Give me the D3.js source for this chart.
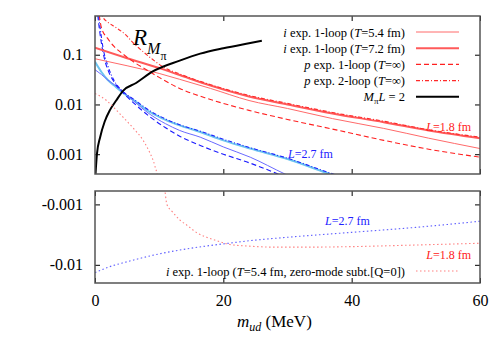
<!DOCTYPE html>
<html>
<head>
<meta charset="utf-8">
<script src="https://cdn.jsdelivr.net/npm/d3@7"></script>
<style>
body { margin: 0; background: #fff; }
text { font-family: "Liberation Serif", "Times New Roman", serif; }
</style>
</head>
<body>
<div id="root"></div>
<script>
// ---- data ----
// L = 1.8 fm, top panel
const mRedThin = [0, 5, 10, 13.2, 18, 24, 30, 37, 45, 52, 60];
const rRedThin = [0.083, 0.060, 0.042, 0.032, 0.021, 0.012, 0.0083, 0.0052, 0.0033, 0.0021, 0.0013];
const mRedThick = [0, 5, 10, 13.2, 18, 24, 30, 37, 45, 52, 60];
const rRedThick = [0.138, 0.085, 0.054, 0.039, 0.024, 0.0145, 0.010, 0.0066, 0.0044, 0.0030, 0.0021];
const mRedDash = [0.5, 1, 2, 3, 4.5, 6, 8, 10, 13.2, 18, 24, 30, 37, 45, 52, 60];
const rRedDash = [0.9, 0.35, 0.21, 0.145, 0.1, 0.072, 0.050, 0.035, 0.021, 0.0126, 0.0076, 0.005, 0.0032, 0.0019, 0.00126, 0.00087];
const mRedDot2 = [0.9, 1.2, 2, 3, 4.8, 6, 7.5, 9, 10.6, 13.2, 18, 24, 30, 37, 45, 52, 60];
const rRedDot2 = [0.8, 0.58, 0.45, 0.37, 0.25, 0.17, 0.115, 0.08, 0.057, 0.041, 0.025, 0.0152, 0.0105, 0.0069, 0.0046, 0.0031, 0.0022];
// L = 2.7 fm, top panel
const mBlueThin = [0, 1, 2, 3, 4.4, 6, 8.6, 11, 13.2, 16.4, 20, 24.2, 29.6, 35];
const rBlueThin = [0.05, 0.04, 0.031, 0.025, 0.018, 0.0118, 0.0063, 0.0041, 0.0030, 0.0022, 0.0014, 0.00087, 0.0004, 0.0002];
const mBlueThick = [0, 1, 2, 3, 4.4, 6, 8.6, 11, 13.2, 16.4, 20, 24.2, 30, 36.6, 42];
const rBlueThick = [0.072, 0.045, 0.031, 0.024, 0.017, 0.0122, 0.0070, 0.0049, 0.0038, 0.0028, 0.0019, 0.0013, 0.0008, 0.0004, 0.00024];
const mBlueDash = [0.3, 0.6, 1, 1.5, 2, 3, 4.4, 6, 8.6, 11, 13.2, 16.4, 20, 24.2, 28.5, 34];
const rBlueDash = [0.9, 0.4, 0.17, 0.08, 0.05, 0.028, 0.017, 0.0108, 0.0056, 0.0034, 0.0023, 0.0015, 0.001, 0.00066, 0.0004, 0.0002];
const mBlueDot2 = [0.4, 0.8, 1.2, 2, 3, 4.4, 6, 8.6, 11, 13.2, 16.4, 20, 24.2, 30, 36.6, 42];
const rBlueDot2 = [0.9, 0.35, 0.15, 0.06, 0.03, 0.018, 0.0128, 0.0074, 0.0051, 0.0039, 0.0029, 0.002, 0.00135, 0.00083, 0.00042, 0.00025];
// M_pi L = 2
const mBlack = [0.02, 0.3, 0.8, 1.5, 2.3, 3.3, 4.4, 6.4, 9, 13.2, 16.4, 20, 24, 26];
const rBlack = [0.0003, 0.001, 0.0022, 0.0045, 0.0076, 0.012, 0.019, 0.027, 0.046, 0.076, 0.105, 0.135, 0.17, 0.19];
// zero-mode subtracted (signed values, both panels)
const mRedZero = [0, 1.8, 3, 4.4, 6, 7.5, 8.5, 9.3, 9.8, 10.2, 10.5, 10.9, 11.2, 12, 13.2, 14.3, 16, 17.4, 19, 21, 24, 28, 33, 40, 50, 60];
const rRedZero = [0.0166, 0.012, 0.0085, 0.0055, 0.0033, 0.0019, 0.0011, 0.0006, 0.0003, 0.00001, -0.0003, -0.0006, -0.001, -0.0013, -0.0018, -0.0022, -0.003, -0.0035, -0.004, -0.0046, -0.0049, -0.0051, -0.0051, -0.005, -0.0047, -0.0044];
const mBlueZero = [0, 2, 5, 10, 15, 20, 25, 30, 40, 50, 60];
const rBlueZero = [-0.0135, -0.011, -0.0089, -0.0066, -0.0053, -0.0045, -0.0039, -0.0035, -0.0029, -0.0024, -0.0019];

const xTicks = [0, 20, 40, 60];
const topTicks = [0.001, 0.01, 0.1];
const botTicks = [0.001, 0.01];

// ---- layout ----
const width = 500, height = 350;
const left = 95, right = 480;
const topY0 = 16, topY1 = 174, botY0 = 191, botY1 = 283;

const x = d3.scaleLinear().domain([0, 60]).range([left, right]);
const yTop = d3.scaleLog().domain([0.0004, 0.6]).range([topY1, topY0]);
const yBot = d3.scaleLog().domain([0.0006, 0.02]).range([botY0, botY1]);

const svg = d3.select("#root").append("svg")
    .attr("width", width)
    .attr("height", height);

const defs = svg.append("defs");
defs.append("clipPath").attr("id", "clipTop").append("rect")
    .attr("x", left).attr("y", topY0).attr("width", right - left).attr("height", topY1 - topY0);
defs.append("clipPath").attr("id", "clipBot").append("rect")
    .attr("x", left).attr("y", botY0).attr("width", right - left).attr("height", botY1 - botY0);

function pairs(ms, vs) { return ms.map((m, i) => ({m: m, v: vs[i]})); }

let lineTop = d3.line().curve(d3.curveMonotoneX)
    .x(d => x(d.m)).y(d => yTop(d.v));
let lineBot = d3.line().curve(d3.curveMonotoneX)
    .x(d => x(d.m)).y(d => yBot(-d.v));

const topG = svg.append("g").attr("clip-path", "url(#clipTop)");
const botG = svg.append("g").attr("clip-path", "url(#clipBot)");

const DASH = "5,3", DASHDOT = "4,2,1,2", DOT = "1.5,2.5";

const topSeries = [
    {m: mBlueThick, v: rBlueThick, color: "#6cc4f0", w: 2, dash: null},
    {m: mBlueThin, v: rBlueThin, color: "#6a6aff", w: 1, dash: null},
    {m: mBlueDash, v: rBlueDash, color: "#1a1aff", w: 1.1, dash: DASH},
    {m: mBlueDot2, v: rBlueDot2, color: "#2020ff", w: 1.1, dash: DASHDOT},
    {m: mRedThin, v: rRedThin, color: "#ff6a6a", w: 1, dash: null},
    {m: mRedThick, v: rRedThick, color: "#ff5a5a", w: 2, dash: null},
    {m: mRedDash, v: rRedDash, color: "#ff2020", w: 1.1, dash: DASH},
    {m: mRedDot2, v: rRedDot2, color: "#ff2a2a", w: 1.1, dash: DASHDOT},
    {m: mBlack, v: rBlack, color: "#000", w: 2, dash: null}
];

topSeries.forEach(s => {
    topG.append("path")
        .datum(pairs(s.m, s.v))
        .attr("d", lineTop)
        .attr("fill", "none")
        .attr("stroke", s.color)
        .attr("stroke-width", s.w)
        .attr("stroke-dasharray", s.dash);
});

// zero-mode subtracted curve: positive part on top, negative part on bottom
let redZero = pairs(mRedZero, rRedZero);
topG.append("path")
    .datum(redZero.filter(d => d.v > 0))
    .attr("d", lineTop)
    .attr("fill", "none").attr("stroke", "#ff8080").attr("stroke-width", 1.1)
    .attr("stroke-dasharray", DOT);
botG.append("path")
    .datum(redZero.filter(d => d.v < 0))
    .attr("d", lineBot)
    .attr("fill", "none").attr("stroke", "#ff8080").attr("stroke-width", 1.1)
    .attr("stroke-dasharray", DOT);
botG.append("path")
    .datum(pairs(mBlueZero, rBlueZero))
    .attr("d", lineBot)
    .attr("fill", "none").attr("stroke", "#6060ff").attr("stroke-width", 1.1)
    .attr("stroke-dasharray", DOT);

// ---- axes ----
function styleAxis(g) {
    g.select(".domain").remove();
    g.selectAll(".tick line").attr("stroke", "#000");
    g.selectAll(".tick text")
        .attr("font-family", "Liberation Serif, serif")
        .attr("font-size", 16)
        .attr("fill", "#000");
}

svg.append("g").attr("transform", "translate(" + left + ",0)")
    .call(d3.axisLeft(yTop).tickValues(topTicks).tickFormat(d => String(d)).tickSize(-5).tickPadding(12))
    .call(styleAxis);
svg.append("g").attr("transform", "translate(" + right + ",0)")
    .call(d3.axisRight(yTop).tickValues(topTicks).tickFormat("").tickSize(-5))
    .call(styleAxis);
svg.append("g").attr("transform", "translate(" + left + ",0)")
    .call(d3.axisLeft(yBot).tickValues(botTicks).tickFormat(d => "-" + d).tickSize(-5).tickPadding(12))
    .call(styleAxis);
svg.append("g").attr("transform", "translate(" + right + ",0)")
    .call(d3.axisRight(yBot).tickValues(botTicks).tickFormat("").tickSize(-5))
    .call(styleAxis);

svg.append("g").attr("transform", "translate(0," + topY0 + ")")
    .call(d3.axisTop(x).tickValues(xTicks).tickFormat("").tickSize(-5)).call(styleAxis);
svg.append("g").attr("transform", "translate(0," + topY1 + ")")
    .call(d3.axisBottom(x).tickValues(xTicks).tickFormat("").tickSize(-5)).call(styleAxis);
svg.append("g").attr("transform", "translate(0," + botY0 + ")")
    .call(d3.axisTop(x).tickValues(xTicks).tickFormat("").tickSize(-5)).call(styleAxis);
svg.append("g").attr("transform", "translate(0," + botY1 + ")")
    .call(d3.axisBottom(x).tickValues(xTicks).tickFormat(d => d).tickSize(-5).tickPadding(12))
    .call(styleAxis);

// frames
[[topY0, topY1], [botY0, botY1]].forEach(p => {
    svg.append("rect")
        .attr("x", left).attr("y", p[0])
        .attr("width", right - left).attr("height", p[1] - p[0])
        .attr("fill", "none").attr("stroke", "#555").attr("stroke-width", 1.5);
});

// ---- labels ----
let rLab = svg.append("text").attr("x", 133).attr("y", 45).attr("font-size", 23);
rLab.append("tspan").attr("font-style", "italic").text("R");
rLab.append("tspan").attr("font-style", "italic").attr("font-size", 16).attr("dy", 9).text("M");
rLab.append("tspan").attr("font-size", 12).attr("dy", 6).text("π");

let xLab = svg.append("text").attr("x", 237).attr("y", 327).attr("font-size", 17);
xLab.append("tspan").attr("font-style", "italic").text("m");
xLab.append("tspan").attr("font-style", "italic").attr("font-size", 12).attr("dy", 4).text("ud");
xLab.append("tspan").attr("dy", -4).text(" (MeV)");

function lLabel(xp, yp, anchor, color, val) {
    let t = svg.append("text").attr("x", xp).attr("y", yp)
        .attr("text-anchor", anchor).attr("font-size", 12).attr("fill", color);
    t.append("tspan").attr("font-style", "italic").text("L");
    t.append("tspan").text("=" + val + " fm");
}
lLabel(471, 131, "end", "#ff2020", "1.8");
lLabel(288, 158, "start", "#2020ff", "2.7");
lLabel(325, 225, "start", "#2020ff", "2.7");
lLabel(471, 259, "end", "#ff2020", "1.8");

// legend (top panel)
const legendRows = [
    {parts: [["i", 1], [" exp. 1-loop (", 0], ["T", 1], ["=5.4 fm)", 0]], color: "#ff6a6a", w: 1, dash: null},
    {parts: [["i", 1], [" exp. 1-loop (", 0], ["T", 1], ["=7.2 fm)", 0]], color: "#ff5a5a", w: 2, dash: null},
    {parts: [["p", 1], [" exp. 1-loop (", 0], ["T", 1], ["=∞)", 0]], color: "#ff2020", w: 1.1, dash: DASH},
    {parts: [["p", 1], [" exp. 2-loop (", 0], ["T", 1], ["=∞)", 0]], color: "#ff2a2a", w: 1.1, dash: DASHDOT},
    {parts: null, color: "#000", w: 2, dash: null}
];
legendRows.forEach((r, i) => {
    let yc = 32 + i * 16.2;
    let t = svg.append("text").attr("x", 405).attr("y", yc + 4.5)
        .attr("text-anchor", "end").attr("font-size", 12.5);
    if (r.parts) {
        r.parts.forEach(p => {
            t.append("tspan").attr("font-style", p[1] ? "italic" : null).text(p[0]);
        });
    } else {
        t.append("tspan").attr("font-style", "italic").text("M");
        t.append("tspan").attr("font-size", 9).attr("dy", 3).text("π");
        t.append("tspan").attr("font-style", "italic").attr("dy", -3).text("L");
        t.append("tspan").text(" = 2");
    }
    svg.append("line")
        .attr("x1", 416).attr("x2", 459).attr("y1", yc).attr("y2", yc)
        .attr("stroke", r.color).attr("stroke-width", r.w)
        .attr("stroke-dasharray", r.dash);
});

// legend (bottom panel)
let bl = svg.append("text").attr("x", 405).attr("y", 276)
    .attr("text-anchor", "end").attr("font-size", 12.5);
bl.append("tspan").attr("font-style", "italic").text("i");
bl.append("tspan").text(" exp. 1-loop (");
bl.append("tspan").attr("font-style", "italic").text("T");
bl.append("tspan").text("=5.4 fm, zero-mode subt.[Q=0])");
svg.append("line")
    .attr("x1", 416).attr("x2", 459).attr("y1", 271).attr("y2", 271)
    .attr("stroke", "#ff8080").attr("stroke-width", 1.1)
    .attr("stroke-dasharray", DOT);
</script>
</body>
</html>
